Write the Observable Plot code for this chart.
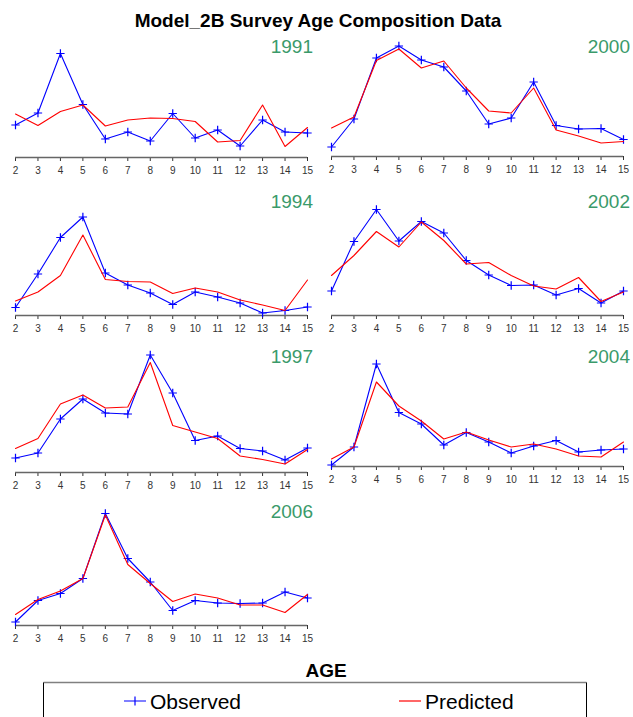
<!DOCTYPE html>
<html>
<head>
<meta charset="utf-8">
<script src="https://cdn.jsdelivr.net/npm/d3@7"></script>
<script src="https://cdn.jsdelivr.net/npm/@observablehq/plot@0.6"></script>
<style>
  body { margin: 0; background: #fff; }
  #page { position: relative; width: 633px; height: 717px; overflow: hidden;
          font-family: "Liberation Sans", Arial, sans-serif; }
  .panel { position: absolute; }
  #overlay { position: absolute; left: 0; top: 0; pointer-events: none; }
</style>
</head>
<body>
<div id="page"></div>
<script>
// Survey age composition: observed vs predicted proportions at age, by survey year
const ages = [2, 3, 4, 5, 6, 7, 8, 9, 10, 11, 12, 13, 14, 15];
const years = [1991, 2000, 1994, 2002, 1997, 2004, 2006];

const obs1991  = [0.065, 0.089, 0.208, 0.106, 0.037, 0.051, 0.033, 0.088, 0.039, 0.055, 0.023, 0.075, 0.051, 0.049];
const pred1991 = [0.087, 0.064, 0.092, 0.105, 0.063, 0.075, 0.079, 0.078, 0.072, 0.031, 0.034, 0.105, 0.022, 0.060];

const obs2000  = [0.019, 0.075, 0.197, 0.221, 0.193, 0.179, 0.131, 0.065, 0.077, 0.149, 0.062, 0.055, 0.056, 0.034];
const pred2000 = [0.057, 0.079, 0.192, 0.215, 0.177, 0.191, 0.137, 0.091, 0.087, 0.137, 0.053, 0.041, 0.027, 0.030];

const obs1994  = [0.016, 0.083, 0.156, 0.197, 0.085, 0.061, 0.045, 0.022, 0.047, 0.037, 0.025, 0.005, 0.010, 0.017];
const pred1994 = [0.029, 0.047, 0.080, 0.161, 0.072, 0.068, 0.067, 0.044, 0.055, 0.047, 0.031, 0.021, 0.010, 0.071];

const obs2002  = [0.049, 0.148, 0.212, 0.149, 0.188, 0.165, 0.110, 0.081, 0.060, 0.061, 0.041, 0.054, 0.025, 0.049];
const pred2002 = [0.080, 0.120, 0.168, 0.137, 0.187, 0.150, 0.103, 0.106, 0.080, 0.059, 0.053, 0.076, 0.028, 0.047];

const obs1997  = [0.029, 0.039, 0.107, 0.147, 0.119, 0.117, 0.235, 0.159, 0.064, 0.073, 0.048, 0.043, 0.025, 0.049];
const pred1997 = [0.048, 0.068, 0.137, 0.155, 0.129, 0.131, 0.220, 0.094, 0.081, 0.068, 0.033, 0.026, 0.017, 0.046];

const obs2004  = [0.003, 0.039, 0.205, 0.108, 0.085, 0.043, 0.068, 0.049, 0.027, 0.041, 0.052, 0.029, 0.033, 0.035];
const pred2004 = [0.015, 0.039, 0.169, 0.121, 0.091, 0.055, 0.069, 0.053, 0.039, 0.045, 0.035, 0.021, 0.019, 0.049];

const obs2006  = [0.007, 0.050, 0.064, 0.094, 0.224, 0.134, 0.087, 0.030, 0.050, 0.045, 0.044, 0.045, 0.067, 0.055];
const pred2006 = [0.022, 0.052, 0.069, 0.094, 0.221, 0.122, 0.084, 0.048, 0.063, 0.055, 0.041, 0.041, 0.026, 0.062];

const observed  = [obs1991, obs2000, obs1994, obs2002, obs1997, obs2004, obs2006];
const predicted = [pred1991, pred2000, pred1994, pred2002, pred1997, pred2004, pred2006];

const titleText = "Model_2B Survey Age Composition Data";
const xTitle = "AGE";
const seriesNames = ["Observed", "Predicted"];

// ---- layout ----
const W = 633, H = 717;
const panelW = 316, panelH = 150, mBottom = 25, mTop = 5;
const colLeft = [0, 316];
// y of each panel's age axis line on the page
const axisY = [157, 156, 315, 315, 472, 466, 624.5];
const yearBaseline = [53, 208, 362.5, 518];
const yearRight = [313, 630];
const blue = "#0000FF", red = "#FF0000", green = "#3A9A6A";

const page = document.getElementById("page");

years.forEach((yr, i) => {
  const col = i % 2;
  const rows = ages.map((a, k) => ({age: a, obs: observed[i][k], pred: predicted[i][k]}));
  const chart = Plot.plot({
    width: panelW,
    height: panelH,
    marginLeft: 15,
    marginRight: 9,
    marginTop: mTop,
    marginBottom: mBottom,
    style: {fontFamily: "'Liberation Sans', Arial, sans-serif", fontSize: "10px", color: "#333", background: "transparent"},
    x: {domain: [d3.min(ages), d3.max(ages)], ticks: ages, tickFormat: d => String(d), tickSize: 4, tickPadding: 5, label: null},
    y: {domain: [0, 0.24], axis: null},
    marks: [
      Plot.ruleY([0], {x1: d3.min(ages), x2: d3.max(ages), stroke: "#666", strokeWidth: 1.6}),
      Plot.line(rows, {x: "age", y: "obs", stroke: blue, strokeWidth: 1.1}),
      Plot.dot(rows, {x: "age", y: "obs", symbol: "plus", stroke: blue, fill: "none", r: 2.8, strokeWidth: 1.2}),
      Plot.line(rows, {x: "age", y: "pred", stroke: red, strokeWidth: 1.1})
    ]
  });
  chart.classList.add("panel");
  chart.style.left = colLeft[col] + "px";
  chart.style.top = (axisY[i] - (panelH - mBottom)) + "px";
  page.appendChild(chart);
});

// ---- titles, year labels and legend ----
const svg = d3.select(page).append("svg")
  .attr("id", "overlay")
  .attr("width", W).attr("height", H)
  .style("font-family", "'Liberation Sans', Arial, sans-serif");

svg.append("text")
  .attr("x", 318).attr("y", 26.5)
  .attr("text-anchor", "middle")
  .attr("font-size", 19).attr("font-weight", "bold")
  .attr("fill", "#000")
  .text(titleText);

years.forEach((yr, i) => {
  svg.append("text")
    .attr("x", yearRight[i % 2]).attr("y", yearBaseline[Math.floor(i / 2)])
    .attr("text-anchor", "end")
    .attr("font-size", 19)
    .attr("fill", green)
    .text(yr);
});

svg.append("text")
  .attr("x", 326).attr("y", 677)
  .attr("text-anchor", "middle")
  .attr("font-size", 19).attr("font-weight", "bold")
  .attr("fill", "#000")
  .text(xTitle);

// legend box (runs past the bottom edge)
const bx = 43.5, by = 682.5, bw = 543;
svg.append("line").attr("x1", bx).attr("x2", bx + bw).attr("y1", by).attr("y2", by)
  .attr("stroke", "#808080").attr("stroke-width", 1.6);
svg.append("line").attr("x1", bx).attr("x2", bx).attr("y1", by).attr("y2", H + 5)
  .attr("stroke", "#000").attr("stroke-width", 1);
svg.append("line").attr("x1", bx + bw).attr("x2", bx + bw).attr("y1", by).attr("y2", H + 5)
  .attr("stroke", "#000").attr("stroke-width", 1);

const ly = 701;
svg.append("path")
  .attr("d", `M${124},${ly}H${146}M${135},${ly - 4.5}V${ly + 4.5}`)
  .attr("stroke", blue).attr("stroke-width", 1.2).attr("fill", "none");
svg.append("text")
  .attr("x", 150).attr("y", ly + 7.5)
  .attr("font-size", 21).attr("fill", "#000")
  .text(seriesNames[0]);
svg.append("line")
  .attr("x1", 399).attr("x2", 421).attr("y1", ly).attr("y2", ly)
  .attr("stroke", red).attr("stroke-width", 1.2);
svg.append("text")
  .attr("x", 425).attr("y", ly + 7.5)
  .attr("font-size", 21).attr("fill", "#000")
  .text(seriesNames[1]);
</script>
</body>
</html>
